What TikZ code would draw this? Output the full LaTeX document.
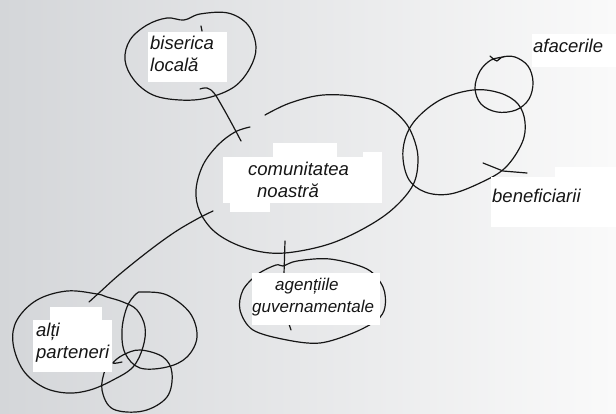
\documentclass[tikz,border=0pt]{standalone}
\usepackage{fontspec}
\setmainfont{Liberation Sans}
\definecolor{bgL}{RGB}{212,214,217}
\definecolor{bgR}{RGB}{250,250,250}
\definecolor{ink}{RGB}{22,22,22}
\newcommand\twolines[2]{\vtop{\hbox{#1}\hbox{#2}}}
\tikzset{
  sketch/.style={draw=ink, line width=1.2pt, line cap=round, line join=round},
  label/.style={inner sep=0pt, anchor=base west, text=ink,
    font=\fontsize{18.5}{22.5}\selectfont\itshape},
  paper/.style={fill=white, draw=none}
}
\begin{document}
\begin{tikzpicture}[x=1pt,y=-1pt]
\useasboundingbox (0,0) rectangle (616,413);
\shade[left color=bgL, right color=bgR] (0,0) rectangle (616,413);

% ---- blobs ----
% biserica locala
\draw[sketch] plot[smooth cycle, tension=0.6] coordinates {
 (184,20) (200,14) (228,13) (248,25) (256,47) (250,68) (234,87) (207,98)
 (180,100) (153,95) (134,80) (125,60) (130,40) (147,25) (167,18)};
% comunitatea noastra (open)
\draw[sketch] plot[smooth, tension=0.6] coordinates {
 (265,115) (290,103) (323,95) (360,97) (385,105) (405,122) (415,142) (418,162)
 (413,185) (395,207) (370,225) (335,242) (300,251) (270,253) (240,246)
 (215,232) (200,212) (196,190) (203,165) (218,145) (235,132) (250,127)};
% beneficiarii
\draw[sketch] plot[smooth cycle, tension=0.6] coordinates {
 (403,150) (413,123) (440,100) (473,90) (500,93) (518,104) (525,122) (522,143)
 (505,168) (480,183) (450,194) (425,192) (408,178)};
% afacerile
\draw[sketch] plot[smooth, tension=0.6] coordinates {
 (490,56) (497,61) (502,57) (515,57) (528,66) (533,82) (529,99) (516,110)
 (497,112) (481,104) (475,88) (480,71) (491,60) (504,57)};
% agentiile guvernamentale
\draw[sketch] plot[smooth cycle, tension=0.55] coordinates {
 (283,266) (297,261) (330,259) (367,269) (383,287) (385,307) (377,320)
 (353,333) (320,343) (287,340) (253,330) (240,310) (243,290) (258,274) (276,265)};
% alti parteneri cluster
\draw[sketch] plot[smooth cycle, tension=0.6] coordinates {
 (97,294) (67,291) (37,300) (17,320) (13,343) (23,370) (43,387) (67,393)
 (90,390) (113,380) (133,367) (143,347) (145,327) (137,310) (123,302) (107,297)};
\draw[sketch] plot[smooth cycle, tension=0.6] coordinates {
 (143,292) (167,295) (190,313) (197,337) (187,357) (167,367) (140,368)
 (125,353) (122,330) (127,307) (136,294)};
\draw[sketch] plot[smooth, tension=0.6] coordinates {
 (122,362) (113,363) (123,355) (140,350) (163,357) (172,373) (167,397)
 (143,411) (113,409) (102,390) (105,370) (111,362)};

% ---- connectors ----
\coordinate (c1a) at (200,89);
\coordinate (c1b) at (241,141);
\draw[sketch] plot[smooth, tension=0.6] coordinates {
 (c1a) (207,88) (214,93) (222,106) (232,124) (c1b)};
\coordinate (c2a) at (285,241);
\coordinate (c2b) at (284,274);
\draw[sketch] (c2a) -- (c2b);
\draw[sketch] (289,324) -- (291,330);
\coordinate (c3a) at (213,211);
\coordinate (c3b) at (89,302);
\draw[sketch] plot[smooth, tension=0.6] coordinates {
 (c3a) (197,219) (175,232) (150,250) (120,274) (100,292) (c3b)};
\coordinate (c4a) at (483,163);
\coordinate (c4b) at (527,173);
\draw[sketch] (c4a) -- (503,171) -- (c4b);
\draw[sketch] (201,26) -- (202,31);

% ---- paper labels ----
\fill[paper] (148,32) rectangle (227,82);
\fill[paper] (223,157) rectangle (372,203);
\fill[paper] (273,143) rectangle (337,157);
\fill[paper] (363,152) rectangle (382,203);
\fill[paper] (230,203) rectangle (270,212);
\fill[paper] (532,34) rectangle (616,67);
\fill[paper] (555,167) rectangle (616,227);
\fill[paper] (491,177) rectangle (616,227);
\fill[paper] (252,273) rectangle (380,325);
\fill[paper] (33,320) rectangle (112,372);
\fill[paper] (50,307) rectangle (102,320);

\node[label] (bis) at (150,49) {\twolines{biserica}{locală}};
\node[label] (com) at (248,175) {\twolines{comunitatea}{\hspace{9pt}noastră}};
\node[label] (afa) at (533,52) {afacerile};
\node[label] (ben) at (492,202) {beneficiarii};
\node[label, font=\fontsize{17}{22}\selectfont\itshape] (age) at (252,290)
  {\twolines{\hspace{23pt}agențiile}{guvernamentale}};
\node[label] (alt) at (36,336) {\twolines{alți}{parteneri}};
\end{tikzpicture}
\end{document}
